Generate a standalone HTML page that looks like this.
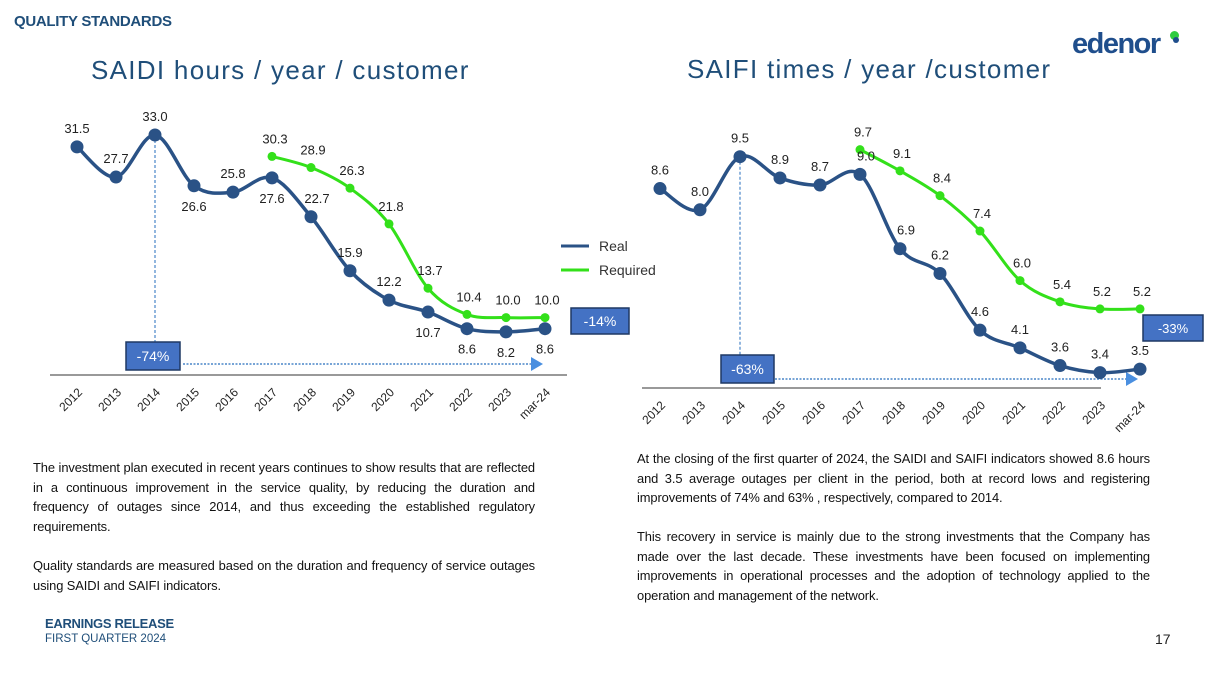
<!DOCTYPE html>
<html><head><meta charset="utf-8">
<style>
body{margin:0;width:1213px;height:680px;background:#fff;overflow:hidden;font-family:"Liberation Sans",sans-serif;position:relative}
.p{position:absolute;font-size:12.9px;line-height:19.6px;color:#111;text-align:justify;letter-spacing:-0.1px}
</style></head><body>
<div style="position:absolute;left:14px;top:13px;font-size:15px;font-weight:bold;color:#1f4e79;letter-spacing:-0.3px">QUALITY STANDARDS</div>
<div style="position:absolute;left:1072px;top:28px;font-size:29px;font-weight:bold;color:#1f4e8c;letter-spacing:-1.5px">edenor</div>
<div style="position:absolute;left:1170px;top:31px;width:9px;height:9px;border-radius:50%;background:#2ecc40"></div>
<div style="position:absolute;left:1173px;top:37px;width:6px;height:6px;border-radius:50%;background:#1f4e8c"></div>
<svg id="svg" width="1213" height="680" style="position:absolute;left:0;top:0" font-family="Liberation Sans, sans-serif"></svg>
<div class="p" style="left:33px;top:458px;width:502px">The investment plan executed in recent years continues to show results that are reflected in a continuous improvement in the service quality, by reducing the duration and frequency of outages since 2014, and thus exceeding the established regulatory requirements.</div>
<div class="p" style="left:33px;top:556px;width:502px">Quality standards are measured based on the duration and frequency of service outages using SAIDI and SAIFI indicators.</div>
<div class="p" style="left:637px;top:449px;width:513px">At the closing of the first quarter of 2024, the SAIDI and SAIFI indicators showed 8.6 hours and 3.5 average outages per client in the period, both at record lows and registering improvements of 74% and 63% , respectively, compared to 2014.</div>
<div class="p" style="left:637px;top:527px;width:513px">This recovery in service is mainly due to the strong investments that the Company has made over the last decade. These investments have been focused on implementing improvements in operational processes and the adoption of technology applied to the operation and management of the network.</div>
<div style="position:absolute;left:45px;top:616px;font-size:13px;font-weight:bold;color:#1f4e79;letter-spacing:-0.3px">EARNINGS RELEASE</div>
<div style="position:absolute;left:45px;top:633px;font-size:11.5px;color:#1f4e79">FIRST QUARTER 2024</div>
<div style="position:absolute;left:1155px;top:631px;font-size:14px;color:#222">17</div>
<script>
const categories=["2012","2013","2014","2015","2016","2017","2018","2019","2020","2021","2022","2023","mar-24"];
const saidiReal=[31.5,27.7,33.0,26.6,25.8,27.6,22.7,15.9,12.2,10.7,8.6,8.2,8.6];
const saidiReq=[null,null,null,null,null,30.3,28.9,26.3,21.8,13.7,10.4,10.0,10.0];
const saidiRealPos=["a","a","a","b","a","b","a","a","a","b","b","b","b"];
const saifiReal=[8.6,8.0,9.5,8.9,8.7,9.0,6.9,6.2,4.6,4.1,3.6,3.4,3.5];
const saifiReq=[null,null,null,null,null,9.7,9.1,8.4,7.4,6.0,5.4,5.2,5.2];
const saifiRealPos=["a","a","a","a","a","a","a","a","a","a","a","a","a"];
const NS="http://www.w3.org/2000/svg",svg=document.getElementById('svg');
function el(t,a,p){const e=document.createElementNS(NS,t);for(const k in a)e.setAttribute(k,a[k]);(p||svg).appendChild(e);return e}
function smooth(pts){let d=`M${pts[0][0]},${pts[0][1]}`;for(let i=0;i<pts.length-1;i++){const p0=pts[i-1]||pts[i],p1=pts[i],p2=pts[i+1],p3=pts[i+2]||p2;const t=0.5/3;d+=` C${p1[0]+(p2[0]-p0[0])*t},${p1[1]+(p2[1]-p0[1])*t} ${p2[0]-(p3[0]-p1[0])*t},${p2[1]-(p3[1]-p1[1])*t} ${p2[0]},${p2[1]}`}return d}
function chart(o){
 const X=i=>o.x0+i*o.dx, Y=v=>o.y0-v*o.ky;
 const g=el('g',{});  
 const t=el('text',{x:o.tx,y:o.ty,'font-size':26,fill:'#1f4e79','letter-spacing':o.ls},g);t.textContent=o.title;
 
 const ax=el('line',{x1:o.ax1,x2:o.ax2,y1:o.axy,y2:o.axy,stroke:'#333','stroke-width':1},g);
 
 categories.forEach((c,i)=>{const tt=el('text',{transform:`translate(${X(i)+6},${o.axy+18}) rotate(-45)`,'text-anchor':'end','font-size':12,fill:'#222'},g);tt.textContent=c;
  });
 const vx=X(2);
 const vl=el('line',{x1:vx,x2:vx,y1:Y(o.real[2]),y2:o.boxY,stroke:'#4a86c8','stroke-width':1.2,'stroke-dasharray':'3,2'},g);
 
 const hl=el('line',{x1:vx+28,x2:X(12)-12,y1:o.arrY,y2:o.arrY,stroke:'#4a86c8','stroke-width':1.5,'stroke-dasharray':'2,1.5'},g);
 
 const ah=el('path',{d:`M${X(12)-14},${o.arrY-7} L${X(12)-2},${o.arrY} L${X(12)-14},${o.arrY+7}Z`,fill:'#4a8fe0'},g);
 
 const rp=o.req.map((v,i)=>v==null?null:[X(i),Y(v)]).filter(Boolean);
 const rl=el('path',{d:smooth(rp),fill:'none',stroke:'#33e01a','stroke-width':3},g);
 
 const pp=o.real.map((v,i)=>[X(i),Y(v)]);
 const pl=el('path',{d:smooth(pp),fill:'none',stroke:'#2a5286','stroke-width':3.5},g);
 
 o.req.forEach((v,i)=>{if(v==null)return;const c=el('circle',{cx:X(i),cy:Y(v),r:4.5,fill:'#33e01a'},g);
  
  const l=el('text',{x:X(i)+(i==5?3:2),y:Y(v)-13,'text-anchor':'middle','font-size':13,fill:'#222'},g);l.textContent=v.toFixed(1);
  });
 o.real.forEach((v,i)=>{const c=el('circle',{cx:X(i),cy:Y(v),r:6.5,fill:'#2a5286'},g);
  
  const b=o.pos[i]=='b';const l=el('text',{x:X(i)+(i==6||i==5&&!b?6:0),y:b?Y(v)+25:Y(v)-14,'text-anchor':'middle','font-size':13,fill:'#222'},g);l.textContent=v.toFixed(1);
  });
 [[o.b1x,o.boxY,o.b1w,28,o.b1t,14],[o.b2x,o.b2y,o.b2w,26,o.b2t,o.b2f]].forEach(b=>{
  const r=el('rect',{x:b[0],y:b[1],width:b[2],height:b[3],fill:'#4472c4',stroke:'#1f3864','stroke-width':1.5},g);
  
  const tx=el('text',{x:b[0]+b[2]/2,y:b[1]+b[3]/2+5,'text-anchor':'middle','font-size':b[5],fill:'#fff'},g);tx.textContent=b[4];
  });
}
chart({name:'saidi-chart',title:'SAIDI hours / year / customer',ls:1.3,tx:91,ty:79,x0:77,dx:39,y0:397,ky:7.94,real:saidiReal,req:saidiReq,pos:saidiRealPos,ax1:50,ax2:567,axy:375,boxY:342,arrY:364,b1x:126,b1w:54,b1t:'-74%',b2x:571,b2y:308,b2w:58,b2t:'-14%',b2f:14});
chart({name:'saifi-chart',title:'SAIFI times / year /customer',ls:1.3,tx:687,ty:78,x0:660,dx:40,y0:493,ky:35.4,real:saifiReal,req:saifiReq,pos:saifiRealPos,ax1:642,ax2:1101,axy:388,boxY:355,arrY:379,b1x:721,b1w:53,b1t:'-63%',b2x:1143,b2y:315,b2w:60,b2t:'-33%',b2f:13});
[['Real','#2a5286',247],['Required','#33e01a',271]].forEach(l=>{
 const ln=el('line',{x1:561,x2:589,y1:l[2]-1,y2:l[2]-1,stroke:l[1],'stroke-width':3});
 
 const t=el('text',{x:599,y:l[2]+4,'font-size':14,fill:'#333'});t.textContent=l[0];
 });
</script>
</body></html>
